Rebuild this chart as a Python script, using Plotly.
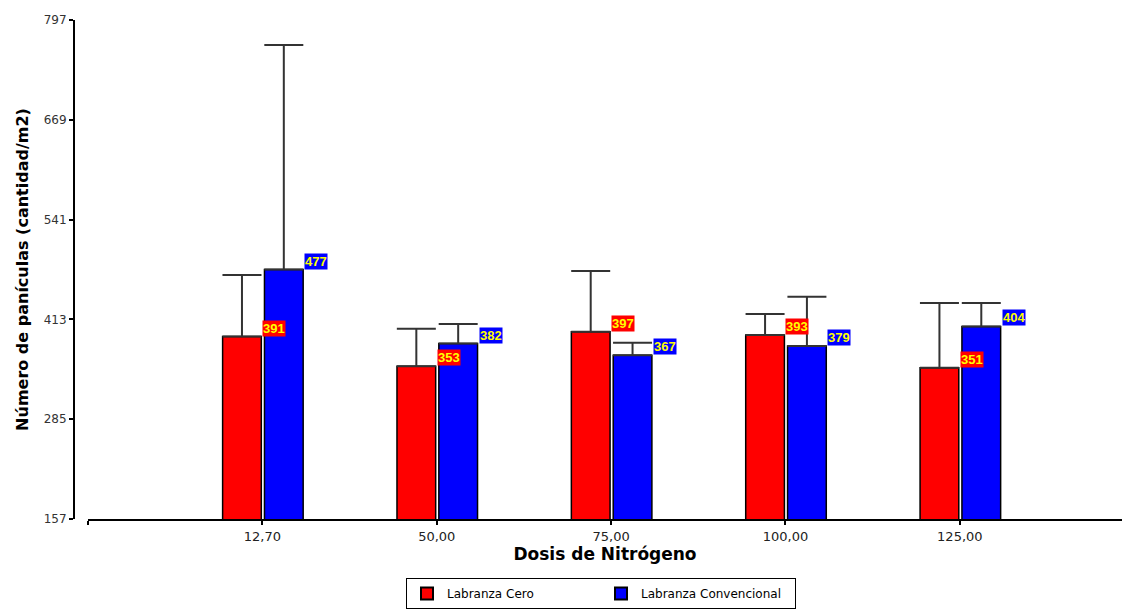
import plotly.graph_objects as go

# Nitrogen doses (categories) and panicle counts per tillage system
dosis = ["12,70", "50,00", "75,00", "100,00", "125,00"]
labranza_cero = [391, 353, 397, 393, 351]
labranza_convencional = [477, 382, 367, 379, 404]

# Upper error (one-sided) for each bar
error_cero = [79, 48, 78, 27, 83]
error_convencional = [288, 25, 16, 63, 30]

y_ticks = [157, 285, 413, 541, 669, 797]

x_pos = list(range(len(dosis)))
bar_width = 0.222
offset_cero = -0.228
offset_conv = 0.012

sans = "Liberation Sans, Arial, sans-serif"
wide = "DejaVu Sans, Verdana, sans-serif"

fig = go.Figure()

fig.add_trace(go.Bar(
    name="Labranza Cero",
    x=x_pos, y=labranza_cero,
    width=bar_width, offset=offset_cero,
    marker=dict(color="#ff0000", line=dict(color="#000000", width=1.5)),
    error_y=dict(type="data", symmetric=False, array=error_cero,
                 arrayminus=[0] * len(error_cero),
                 color="#333333", thickness=2, width=19.5),
))
fig.add_trace(go.Bar(
    name="Labranza Convencional",
    x=x_pos, y=labranza_convencional,
    width=bar_width, offset=offset_conv,
    marker=dict(color="#0000ff", line=dict(color="#000000", width=1.5)),
    error_y=dict(type="data", symmetric=False, array=error_convencional,
                 arrayminus=[0] * len(error_convencional),
                 color="#333333", thickness=2, width=19.5),
))

# Value labels at the upper right corner of every bar
annotations = []
for values, offset, bg in ((labranza_cero, offset_cero, "#ff0000"),
                           (labranza_convencional, offset_conv, "#0000ff")):
    for xi, v in zip(x_pos, values):
        annotations.append(dict(
            x=xi + offset + bar_width, y=v, xref="x", yref="y",
            text=f"<b>{v}</b>", showarrow=False,
            xanchor="left", yanchor="bottom", xshift=1,
            font=dict(family=sans, size=13, color="#ffff00"),
            bgcolor=bg, borderpad=0,
        ))

W, H = 1122, 609
ml, mr, mt, mb = 74, 0, 20, 90
plot_w = W - ml - mr

fig.update_layout(
    width=W, height=H,
    margin=dict(l=ml, r=mr, t=mt, b=mb, autoexpand=False),
    paper_bgcolor="#ffffff", plot_bgcolor="#ffffff",
    font=dict(family=wide, color="#222222"),
    barmode="overlay",
    showlegend=True,
    legend=dict(
        orientation="h",
        xref="container", x=601 / W, xanchor="center",
        yref="container", y=(H - 578) / H, yanchor="top",
        bordercolor="#000000", borderwidth=1,
        font=dict(family=wide, size=12, color="#000000"),
        entrywidth=149, entrywidthmode="pixels",
        itemsizing="constant",
    ),
    annotations=annotations,
    xaxis=dict(
        domain=[14 / plot_w, 1],
        range=[-1, 4.93],
        tickvals=[-1] + x_pos, ticktext=[""] + dosis,
        ticks="outside", ticklen=4, tickwidth=2, tickcolor="#000000",
        showline=True, linecolor="#000000", linewidth=2,
        showgrid=False, zeroline=False,
        tickfont=dict(family=wide, size=13, color="#222222"),
        title=dict(text="<b>Dosis de Nitrógeno</b>",
                   font=dict(family=wide, size=17, color="#000000"), standoff=4),
    ),
    yaxis=dict(
        anchor="free", position=0,
        range=[157, 797],
        tickvals=y_ticks,
        ticks="outside", ticklen=4, tickwidth=2, tickcolor="#000000",
        showline=True, linecolor="#000000", linewidth=2,
        showgrid=False, zeroline=False,
        tickfont=dict(family=wide, size=12, color="#333333"),
        title=dict(text="<b>Número de panículas (cantidad/m2)</b>",
                   font=dict(family=wide, size=16, color="#000000"), standoff=10),
    ),
)

fig.write_html("out.html")
